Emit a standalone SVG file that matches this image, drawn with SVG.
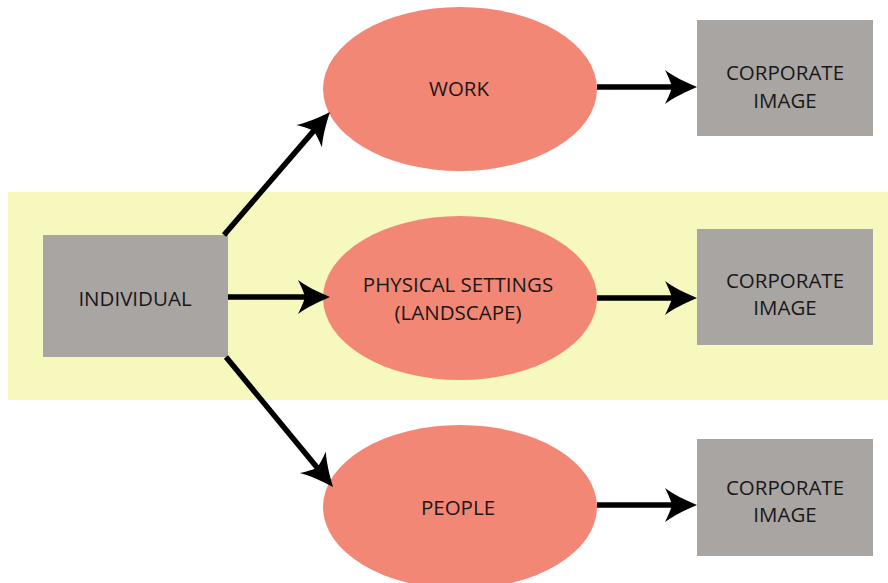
<svg xmlns="http://www.w3.org/2000/svg" width="888" height="583" viewBox="0 0 888 583">
<defs>
<style>
.band{fill:#f6f8bd}
.box{fill:#a8a5a3}
.oval{fill:#f28775}
.lbl{font-family:"Open Sans","Noto Sans","Liberation Sans",sans-serif;font-size:20.5px;fill:#1a1718;text-anchor:middle;dominant-baseline:central}
.conn{stroke:#000;stroke-width:5.5;fill:none;marker-end:url(#ah)}
</style>
<marker id="ah" viewBox="-34 -18 36 36" refX="-18" refY="0" markerWidth="36" markerHeight="36" markerUnits="userSpaceOnUse" orient="auto">
<path d="M0,0 C-12,-5 -24,-11 -32,-17 C-28,-9 -26,-4 -25,0 C-26,4 -28,9 -32,17 C-24,11 -12,5 0,0 Z" fill="#000"/>
</marker>
</defs>
<rect width="888" height="583" fill="#fff"/>
<rect class="band" x="8" y="192" width="880" height="208"/>
<g id="individual">
<rect class="box" x="43" y="235" width="185" height="122"/>
<text class="lbl" x="135" y="298">INDIVIDUAL</text>
</g>
<g id="work">
<ellipse class="oval" cx="460" cy="89" rx="137" ry="82"/>
<text class="lbl" x="459" y="88">WORK</text>
</g>
<g id="physical">
<ellipse class="oval" cx="460" cy="298" rx="137" ry="82"/>
<text class="lbl" x="458" y="284">PHYSICAL SETTINGS</text>
<text class="lbl" x="458" y="312">(LANDSCAPE)</text>
</g>
<g id="people">
<ellipse class="oval" cx="460" cy="507" rx="137" ry="82"/>
<text class="lbl" x="458" y="507">PEOPLE</text>
</g>
<g id="corp1">
<rect class="box" x="697" y="20" width="176" height="116"/>
<text class="lbl" x="785" y="72">CORPORATE</text>
<text class="lbl" x="785" y="100">IMAGE</text>
</g>
<g id="corp2">
<rect class="box" x="697" y="229" width="176" height="116"/>
<text class="lbl" x="785" y="280">CORPORATE</text>
<text class="lbl" x="785" y="307">IMAGE</text>
</g>
<g id="corp3">
<rect class="box" x="697" y="439" width="176" height="117"/>
<text class="lbl" x="785" y="487">CORPORATE</text>
<text class="lbl" x="785" y="514">IMAGE</text>
</g>
<g id="connectors">
<path class="conn" d="M224,235 L318.2,125.6"/>
<path class="conn" d="M228,297 L312,297"/>
<path class="conn" d="M226,357 L321.6,473.1"/>
<path class="conn" d="M597,87 L679,87"/>
<path class="conn" d="M597,298 L679,298"/>
<path class="conn" d="M597,505 L679,505"/>
</g>
</svg>
